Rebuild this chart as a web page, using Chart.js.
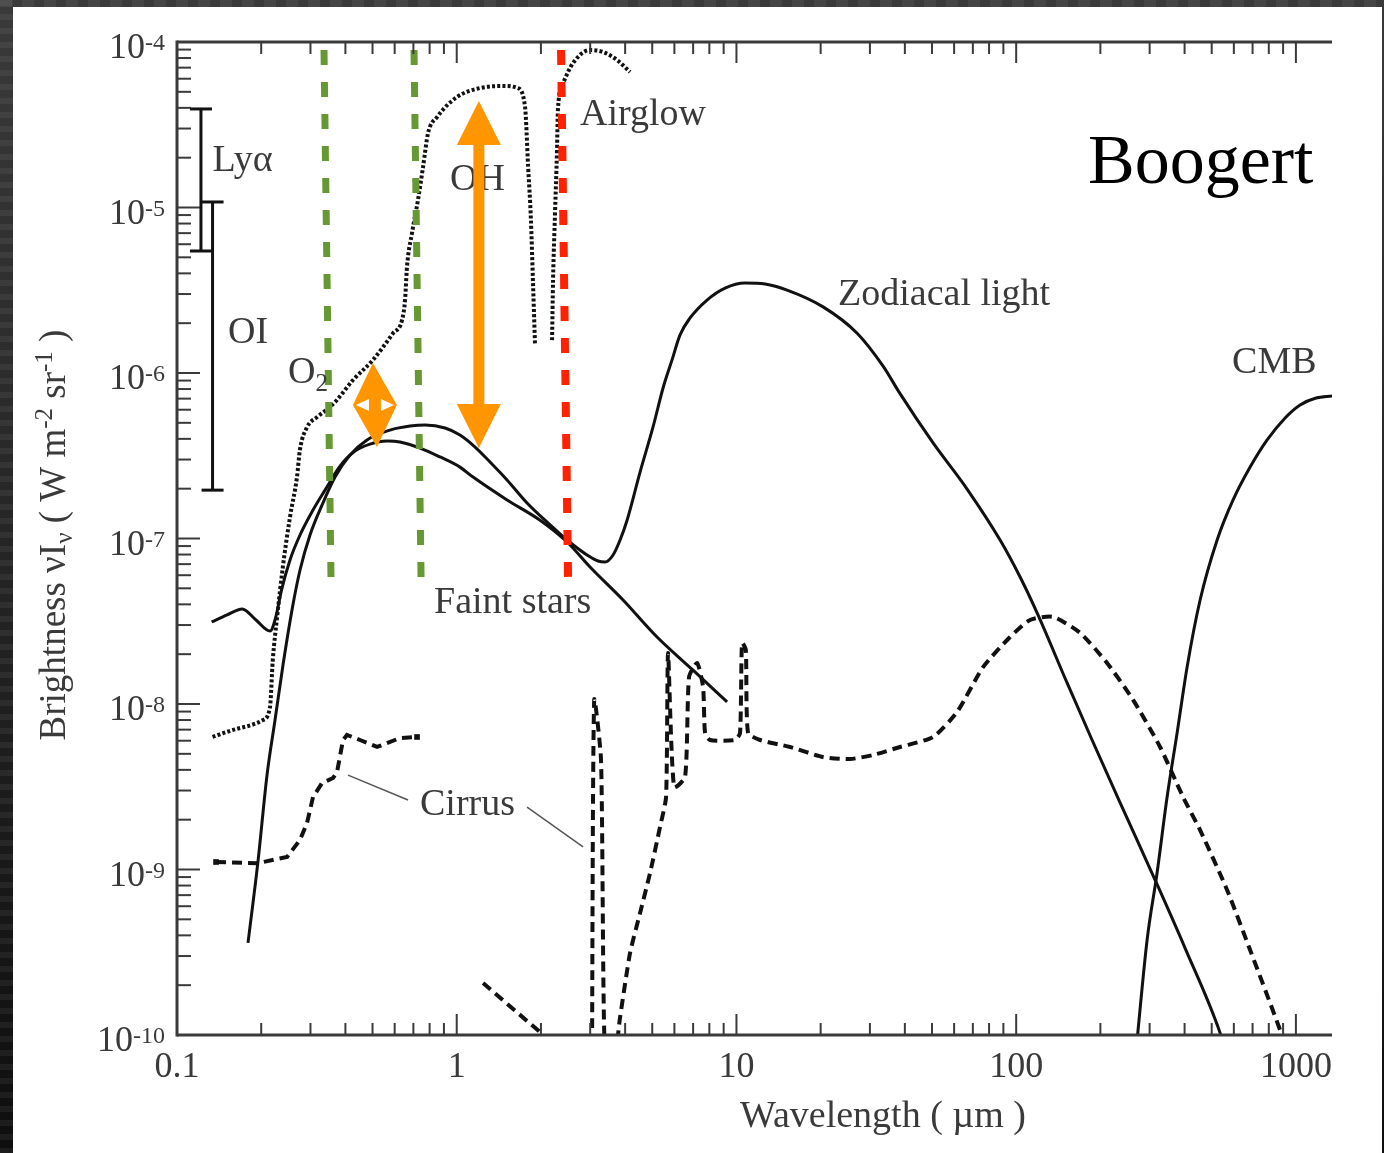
<!DOCTYPE html>
<html><head><meta charset="utf-8">
<script src="https://cdn.jsdelivr.net/npm/chart.js@4.4.0/dist/chart.umd.min.js"></script>
<style>html,body{margin:0;padding:0;background:#222;overflow:hidden}canvas{display:block}</style>
</head><body>
<canvas id="c" width="1384" height="1153"></canvas>
<script>
// ---------- axis definitions ----------
const wavelengthTicks = [0.1, 1, 10, 100, 1000];
const wavelengthTickLabels = ['0.1', '1', '10', '100', '1000'];
const brightnessTickExponents = [-4, -5, -6, -7, -8, -9, -10];
const X_MIN = 0.1, X_MAX = 1346, Y_MIN = 1e-10, Y_MAX = 1e-4;

// ---------- series (wavelength in µm, brightness in W m^-2 sr^-1) ----------
const airglowA_wl = [0.134, 0.1585, 0.203, 0.215, 0.220, 0.228, 0.239, 0.2535, 0.2685, 0.275, 0.292, 0.317, 0.352, 0.373, 0.426, 0.502, 0.592, 0.6375, 0.6535, 0.664, 0.692, 0.727, 0.758, 0.790, 0.8505, 1.0025, 1.211, 1.513, 1.65, 1.755, 1.80, 1.84, 1.874, 1.905];
const airglowA_b  = [6.32e-9, 6.97e-9, 8.00e-9, 9.59e-9, 1.84e-8, 3.36e-8, 6.73e-8, 1.35e-7, 2.35e-7, 3.42e-7, 4.72e-7, 5.42e-7, 6.23e-7, 6.87e-7, 9.07e-7, 1.20e-6, 1.74e-6, 2.09e-6, 2.76e-6, 4.37e-6, 7.01e-6, 1.11e-5, 1.76e-5, 2.82e-5, 3.52e-5, 4.65e-5, 5.27e-5, 5.42e-5, 5.27e-5, 4.05e-5, 1.76e-5, 8.76e-6, 3.50e-6, 1.48e-6];

const airglowB_wl = [2.192, 2.21, 2.246, 2.283, 2.30, 2.40, 2.605, 2.996, 3.335, 3.743, 4.165];
const airglowB_b  = [1.58e-6, 3.65e-6, 9.27e-6, 2.23e-5, 3.88e-5, 5.65e-5, 7.46e-5, 8.95e-5, 8.70e-5, 7.78e-5, 6.59e-5];

const zodiacal_wl = [0.1794, 0.195, 0.2098, 0.2241, 0.2393, 0.2577, 0.2753, 0.2989, 0.3299, 0.3672, 0.4154, 0.4778, 0.5776, 0.6808, 0.7705, 0.9083, 1.027, 1.163, 1.315, 1.513, 1.784, 2.156, 2.48, 2.923, 3.20, 3.39, 3.622, 3.837, 4.064, 4.523, 5.033, 5.465, 5.885, 6.286, 6.826, 7.85, 9.105, 10.73, 12.66, 15.17, 20.40, 27.0, 33.44, 38.45, 50.46, 66.76, 87.6, 103.3, 118.8, 152.1, 186.8, 234.5, 313.9, 401.6, 535.8, 560];
const zodiacal_b  = [3.60e-10, 1.14e-9, 3.72e-9, 8.00e-9, 1.72e-8, 3.70e-8, 6.45e-8, 1.05e-7, 1.59e-7, 2.35e-7, 3.19e-7, 3.94e-7, 4.52e-7, 4.78e-7, 4.85e-7, 4.65e-7, 4.22e-7, 3.57e-7, 2.90e-7, 2.26e-7, 1.64e-7, 1.21e-7, 9.79e-8, 7.95e-8, 7.31e-8, 7.21e-8, 7.95e-8, 9.79e-8, 1.29e-7, 2.52e-7, 4.72e-7, 8.12e-7, 1.20e-6, 1.70e-6, 2.15e-6, 2.76e-6, 3.26e-6, 3.50e-6, 3.45e-6, 3.17e-6, 2.51e-6, 1.74e-6, 1.10e-6, 7.50e-7, 3.78e-7, 1.99e-7, 9.79e-8, 5.85e-8, 3.55e-8, 1.34e-8, 6.06e-9, 2.56e-9, 8.64e-10, 3.35e-10, 1.03e-10, 8.0e-11];

const faintStars_wl = [0.133, 0.151, 0.171, 0.1916, 0.2151, 0.226, 0.2364, 0.2535, 0.2753, 0.3039, 0.3382, 0.3826, 0.4328, 0.4898, 0.5635, 0.6272, 0.7394, 0.8718, 1.027, 1.144, 1.513, 1.986, 2.48, 2.996, 3.932, 5.201, 6.997, 9.256];
const faintStars_b  = [3.13e-8, 3.45e-8, 3.75e-8, 3.22e-8, 2.76e-8, 3.40e-8, 4.88e-8, 7.42e-8, 1.05e-7, 1.45e-7, 1.96e-7, 2.74e-7, 3.38e-7, 3.72e-7, 3.88e-7, 3.83e-7, 3.52e-7, 3.11e-7, 2.70e-7, 2.35e-7, 1.71e-7, 1.29e-7, 9.52e-8, 6.73e-8, 4.25e-8, 2.54e-8, 1.60e-8, 1.03e-8];

const cmb_wl = [270, 293.8, 318.9, 346.4, 376.1, 408.3, 454.5, 522.9, 596.3, 686.1, 789.2, 915, 1035, 1181, 1346];
const cmb_b  = [9.0e-11, 3.75e-10, 9.53e-10, 2.74e-9, 6.68e-9, 1.67e-8, 4.25e-8, 9.79e-8, 1.71e-7, 2.70e-7, 3.94e-7, 5.35e-7, 6.41e-7, 7.06e-7, 7.26e-7];

const cirrusUV_wl = [0.1379, 0.1932, 0.2474, 0.2753, 0.2916, 0.3064, 0.3299, 0.3612, 0.3733, 0.3922, 0.4053, 0.4510, 0.5189, 0.6272, 0.7213];
const cirrusUV_b  = [1.11e-9, 1.09e-9, 1.19e-9, 1.51e-9, 1.91e-9, 2.74e-9, 3.33e-9, 3.57e-9, 3.88e-9, 6.06e-9, 6.50e-9, 6.06e-9, 5.50e-9, 6.23e-9, 6.32e-9];

const cirrusNIR_wl = [1.242, 2.0, 2.121];
const cirrusNIR_b  = [2.06e-10, 1.03e-10, 9.33e-11];

const cirrusIR_wl = [3.045, 3.10, 3.28, 3.39, 3.65, 3.837, 4.165, 4.523, 4.911, 5.332, 5.602, 5.694, 5.982, 6.551, 6.770, 7.231, 7.597, 7.723, 8.047, 9.885, 10.30, 10.47, 10.8, 11.0, 12.14, 15.55, 20.40, 25.48, 30.80, 38.45, 50.46, 61.49, 76.15, 95.1, 112.1, 135.5, 169.2, 211.3, 261.8, 326.9, 395.1, 454.5, 567.5, 686.1, 878.1, 907.6];
const cirrusIR_b  = [7.06e-11, 1.06e-8, 4.59e-9, 7.06e-11, 7.06e-11, 1.28e-10, 3.13e-10, 5.46e-10, 9.53e-10, 1.81e-9, 2.74e-9, 2.03e-8, 3.15e-9, 3.62e-9, 1.46e-8, 1.77e-8, 1.27e-8, 6.68e-9, 6.06e-9, 6.06e-9, 6.68e-9, 2.34e-8, 2.12e-8, 6.68e-9, 6.06e-9, 5.50e-9, 4.78e-9, 4.65e-9, 4.92e-9, 5.50e-9, 6.32e-9, 8.95e-9, 1.67e-8, 2.54e-8, 3.22e-8, 3.36e-8, 2.69e-8, 1.77e-8, 1.06e-8, 5.50e-9, 2.74e-9, 1.73e-9, 7.52e-10, 3.26e-10, 1.07e-10, 8.7e-11];

// vertical band markers (top, bottom)
const bandLineB = [8.95e-5, 5.85e-8];
const greenLine1_wl = [0.3354, 0.3552];
const greenLine2_wl = [0.7036, 0.7455];
const redLine_wl = [2.360, 2.500];

// Lyα and OI ranges
const rangeNames = ['Lyα', 'OI'];
const rangeWl = [0.1218, 0.134];
const rangeHigh = [3.94e-5, 1.08e-5];
const rangeLow = [5.46e-6, 1.96e-7];

// orange arrows
const bigArrowWl = 1.20, bigArrowB = [4.40e-5, 3.52e-7];
const smallArrowWl = 0.51, smallArrowB = [1.149e-6, 3.57e-7];

// text labels
const labelTexts = ['Lyα', 'OI', 'O2', 'OH', 'Airglow', 'Zodiacal light', 'CMB', 'Faint stars', 'Cirrus'];
const labelWl = [0.134, 0.1522, 0.2494, 0.946, 2.76, 23.08, 591.4, 0.8297, 0.739];
const labelB = [1.99e-5, 1.82e-6, 1.04e-6, 1.53e-5, 3.78e-5, 3.09e-6, 1.20e-6, 4.25e-8, 2.56e-9];
const stampText = 'Boogert', stampWl = 180.7, stampB = 1.94e-5;
const leaderWl = [[0.4087, 0.6698], [1.784, 2.829]];
const leaderB = [[3.72e-9, 2.63e-9], [2.38e-9, 1.37e-9]];

// ---------- helpers ----------
const FONT = "'Liberation Serif', 'Times New Roman', serif";
const pts = (wl, b) => wl.map((w, i) => ({ x: w, y: b[i] }));
const INK = '#111';
function curve(data, extra) {
  return Object.assign({ data, borderColor: INK, borderWidth: 3, pointRadius: 0, clip: 0,
    cubicInterpolationMode: 'monotone', fill: false }, extra || {});
}
function drawRuns(ctx, runs, x, y, align, color) {
  ctx.textAlign = 'left'; ctx.textBaseline = 'alphabetic'; ctx.fillStyle = color;
  let total = 0;
  const ws = runs.map(r => { ctx.font = r[1] + 'px ' + FONT; const w = ctx.measureText(r[0]).width; total += w; return w; });
  let cx = align === 'center' ? x - total / 2 : (align === 'right' ? x - total : x);
  runs.forEach((r, i) => { ctx.font = r[1] + 'px ' + FONT; ctx.fillText(r[0], cx, y + r[2]); cx += ws[i]; });
}
function seg(ctx, x1, y1, x2, y2) { ctx.beginPath(); ctx.moveTo(x1, y1); ctx.lineTo(x2, y2); ctx.stroke(); }

const deco = {
  id: 'deco',
  beforeDraw(chart) {
    const ctx = chart.ctx, W = chart.width, H = chart.height;
    ctx.save();
    const g = ctx.createLinearGradient(0, 0, 0, H);
    g.addColorStop(0, '#3a3a3a'); g.addColorStop(1, '#0e0e0e');
    ctx.fillStyle = g; ctx.fillRect(0, 0, W, H);
    ctx.fillStyle = 'rgba(255,255,255,0.06)';
    for (let y = 0; y < H; y += 14) { ctx.fillRect(0, y, 13, 6); }
    for (let x = 0; x < W; x += 22) { ctx.fillRect(x, 0, 12, 7); }
    ctx.fillStyle = '#ffffff'; ctx.fillRect(13, 7, 1369, H - 7);
    ctx.restore();
  },
  afterDatasetsDraw(chart) {
    const ctx = chart.ctx, xs = chart.scales.x, ys = chart.scales.y, ca = chart.chartArea;
    const X = v => xs.getPixelForValue(v), Y = v => ys.getPixelForValue(v);
    ctx.save();
    // axes
    ctx.strokeStyle = '#3a3a3a'; ctx.lineWidth = 3; ctx.lineCap = 'butt';
    seg(ctx, ca.left, ca.top - 1.5, ca.left, ca.bottom + 1.5);
    seg(ctx, ca.left, ca.top, ca.right, ca.top);
    seg(ctx, ca.left, ca.bottom, ca.right, ca.bottom);
    // x ticks
    ctx.lineWidth = 2;
    wavelengthTicks.forEach(t => {
      for (let m = 1; m <= 9; m++) {
        const v = t * m; if (v > X_MAX) continue;
        const px = X(v), len = m === 1 ? 21 : 12;
        seg(ctx, px, ca.bottom, px, ca.bottom - len);
        seg(ctx, px, ca.top, px, ca.top + len);
      }
    });
    // y ticks
    brightnessTickExponents.forEach(e => {
      for (let m = 1; m <= 9; m++) {
        const v = m * Math.pow(10, e); if (v > Y_MAX * 1.0001) continue;
        const py = Y(v), len = m === 1 ? 23 : 14;
        seg(ctx, ca.left, py, ca.left + len, py);
      }
    });
    const GREY = '#3a3a3a';
    // tick labels
    brightnessTickExponents.forEach(e => {
      const py = Y(Math.pow(10, e));
      drawRuns(ctx, [['10', 36, 0], ['-' + (-e), 24, -8]], ca.left - 12, py + 16, 'right', GREY);
    });
    wavelengthTicks.forEach((t, i) => {
      drawRuns(ctx, [[wavelengthTickLabels[i], 36, 0]], X(t), ca.bottom + 42, 'center', GREY);
    });
    // axis titles
    drawRuns(ctx, [['Wavelength ( µm )', 38, 0]], 883, ca.bottom + 92, 'center', GREY);
    ctx.save();
    ctx.translate(65, 535); ctx.rotate(-Math.PI / 2);
    drawRuns(ctx, [['Brightness νI', 37, 0], ['ν', 25, 7], [' ( W m', 37, 0], ['-2', 25, -13], [' sr', 37, 0], ['-1', 25, -13], [' )', 37, 0]], 0, 0, 'center', GREY);
    ctx.restore();
    // Lyα / OI ranges
    ctx.strokeStyle = INK; ctx.lineWidth = 3;
    rangeWl.forEach((w, i) => {
      const px = X(w), y1 = Y(rangeHigh[i]), y2 = Y(rangeLow[i]);
      seg(ctx, px, y1, px, y2);
      seg(ctx, px - 11, y1, px + 11, y1);
      seg(ctx, px - 11, y2, px + 11, y2);
    });
    // labels
    labelTexts.forEach((t, i) => {
      const px = X(labelWl[i]), py = Y(labelB[i]) + 13;
      const runs = t === 'O2' ? [['O', 38, 0], ['2', 25, 8]] : [[t, 38, 0]];
      drawRuns(ctx, runs, px, py, 'left', GREY);
    });
    drawRuns(ctx, [[stampText, 70, 0]], X(stampWl), Y(stampB) + 23, 'left', '#000');
    // cirrus leader lines
    ctx.strokeStyle = '#555'; ctx.lineWidth = 1.5;
    leaderWl.forEach((w, i) => seg(ctx, X(w[0]), Y(leaderB[i][0]), X(w[1]), Y(leaderB[i][1])));
    // orange arrows
    ctx.fillStyle = '#ff9500';
    {
      const x = X(bigArrowWl), y1 = Y(bigArrowB[0]), y2 = Y(bigArrowB[1]);
      const hw = 22, hl = 44, sw = 5.5;
      ctx.beginPath();
      ctx.moveTo(x, y1); ctx.lineTo(x + hw, y1 + hl); ctx.lineTo(x + sw, y1 + hl);
      ctx.lineTo(x + sw, y2 - hl); ctx.lineTo(x + hw, y2 - hl); ctx.lineTo(x, y2);
      ctx.lineTo(x - hw, y2 - hl); ctx.lineTo(x - sw, y2 - hl);
      ctx.lineTo(x - sw, y1 + hl); ctx.lineTo(x - hw, y1 + hl);
      ctx.closePath(); ctx.fill();
    }
    {
      const x = X(smallArrowWl), y1 = Y(smallArrowB[0]), y2 = Y(smallArrowB[1]), mid = (y1 + y2) / 2;
      ctx.fillStyle = '#ff9500';
      ctx.beginPath(); ctx.moveTo(x - 2, y1); ctx.lineTo(x + 22, mid); ctx.lineTo(x + 2, y2); ctx.lineTo(x - 22, mid); ctx.closePath(); ctx.fill();
      ctx.fillStyle = '#ffffff';
      ctx.beginPath(); ctx.moveTo(x - 19, mid); ctx.lineTo(x - 6, mid - 6); ctx.lineTo(x - 6, mid + 6); ctx.closePath(); ctx.fill();
      ctx.beginPath(); ctx.moveTo(x + 19, mid); ctx.lineTo(x + 6, mid - 6); ctx.lineTo(x + 6, mid + 6); ctx.closePath(); ctx.fill();
    }
    ctx.restore();
  }
};

const datasets = [
  curve(pts(redLine_wl, bandLineB), { borderColor: '#ff2200', borderWidth: 8, borderDash: [15, 17], cubicInterpolationMode: 'default', tension: 0 }),
  curve(pts(greenLine1_wl, bandLineB), { borderColor: '#669933', borderWidth: 7, borderDash: [15, 17], cubicInterpolationMode: 'default', tension: 0 }),
  curve(pts(greenLine2_wl, bandLineB), { borderColor: '#669933', borderWidth: 7, borderDash: [15, 17], cubicInterpolationMode: 'default', tension: 0 }),
  curve(pts(airglowA_wl, airglowA_b), { borderDash: [3, 2.2], borderWidth: 4 }),
  curve(pts(airglowB_wl, airglowB_b), { borderDash: [3, 2.2], borderWidth: 4 }),
  curve(pts(zodiacal_wl, zodiacal_b)),
  curve(pts(faintStars_wl, faintStars_b)),
  curve(pts(cmb_wl, cmb_b)),
  curve(pts(cirrusUV_wl, cirrusUV_b), { borderDash: [10, 6], borderWidth: 4, cubicInterpolationMode: 'default', tension: 0,
    pointRadius: c => (c.dataIndex === 0 || c.dataIndex === cirrusUV_wl.length - 1) ? 4 : 0, pointStyle: 'rect', pointBackgroundColor: INK, pointBorderWidth: 0 }),
  curve(pts(cirrusNIR_wl, cirrusNIR_b), { borderDash: [10, 6], borderWidth: 4, cubicInterpolationMode: 'default', tension: 0 }),
  curve(pts(cirrusIR_wl, cirrusIR_b), { borderDash: [10, 6], borderWidth: 4, cubicInterpolationMode: 'default', tension: 0.2 })
];

new Chart(document.getElementById('c'), {
  type: 'line',
  data: { datasets },
  options: {
    responsive: false, animation: false, devicePixelRatio: 1,
    layout: { padding: { left: 177, top: 42, right: 52, bottom: 118 } },
    plugins: { legend: { display: false }, tooltip: { enabled: false } },
    scales: {
      x: { type: 'logarithmic', min: X_MIN, max: X_MAX, display: false },
      y: { type: 'logarithmic', min: Y_MIN, max: Y_MAX, display: false }
    }
  },
  plugins: [deco]
});
</script>
</body></html>
